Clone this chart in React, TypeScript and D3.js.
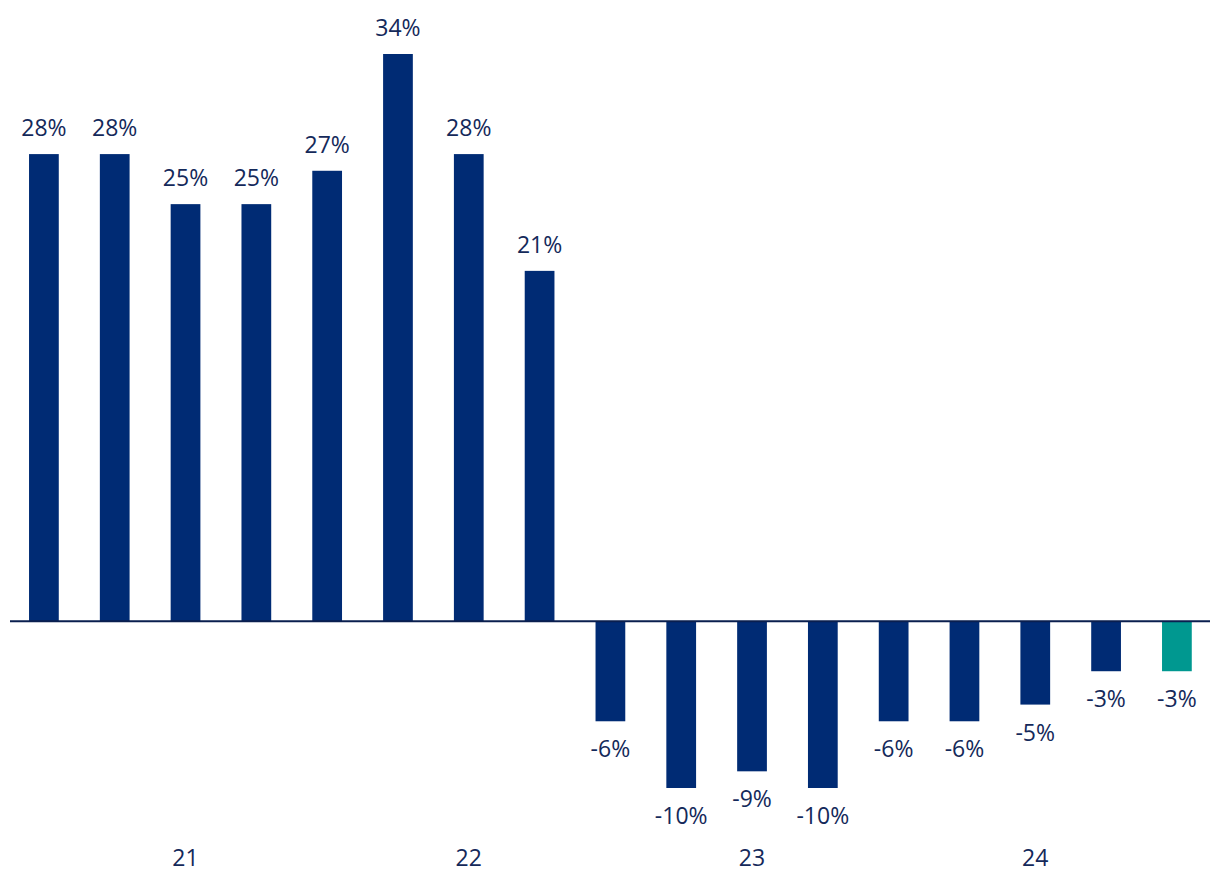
import React from "react";
import * as d3 from "d3";

const categories = ["1","2","3","4","5","6","7","8","9","10","11","12","13","14","15","16","17"];
const values = [28, 28, 25, 25, 27, 34, 28, 21, -6, -10, -9, -10, -6, -6, -5, -3, -3];
const highlight = [false,false,false,false,false,false,false,false,false,false,false,false,false,false,false,false,true];
const axisLabels = [
  { index: 2, label: "21" },
  { index: 6, label: "22" },
  { index: 10, label: "23" },
  { index: 14, label: "24" },
];

const W = 1220;
const H = 896;
const NAVY = "#002B74";
const TEAL = "#009890";
const TEXT = "#14295A";
const FONT = "'Open Sans', 'Noto Sans', sans-serif";

export default function App() {
  const x = d3.scaleBand<string>().domain(categories).range([8.5, 1212.3]).paddingInner(0.58).paddingOuter(0.29);
  const y = d3.scaleLinear().domain([-10, 34]).range([788, 54]);
  const y0 = y(0);
  return (
    <svg width={W} height={H} style={{ position: "absolute", left: 0, top: 0 }}>
      {values.map((v, i) => {
        const xv = x(categories[i])!;
        const top = Math.min(y(v), y0);
        const h = Math.abs(y(v) - y0);
        return (
          <rect key={i} x={xv} y={top} width={x.bandwidth()} height={h} fill={highlight[i] ? TEAL : NAVY} />
        );
      })}
      <line x1={10} x2={1210} y1={y0} y2={y0} stroke="#0A1F4F" strokeWidth={2} />
      {values.map((v, i) => {
        const cx = x(categories[i])! + x.bandwidth() / 2;
        const ty = v >= 0 ? y(v) - 18 : y(v) + 36;
        return (
          <text key={"l" + i} x={cx} y={ty} textAnchor="middle" fontFamily={FONT} fontSize={23} fill={TEXT}>
            {v}%
          </text>
        );
      })}
      {axisLabels.map((a) => (
        <text key={a.label} x={x(categories[a.index])! + x.bandwidth() / 2} y={866} textAnchor="middle" fontFamily={FONT} fontSize={23} fill={TEXT}>
          {a.label}
        </text>
      ))}
    </svg>
  );
}
